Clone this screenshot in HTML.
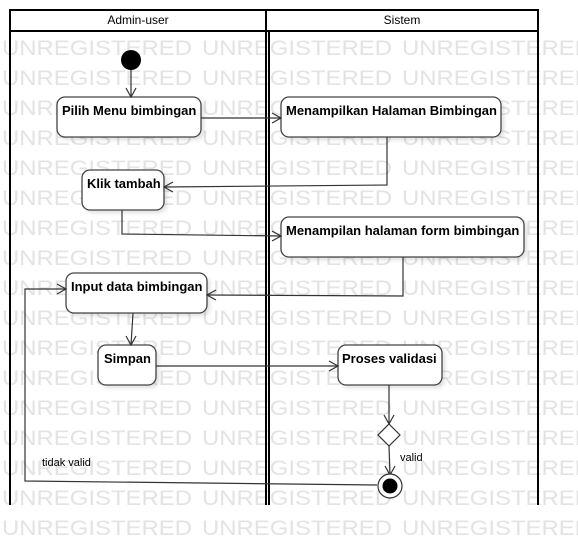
<!DOCTYPE html>
<html><head><style>
html,body{margin:0;padding:0;background:#fff;}
svg{display:block;}
</style></head><body>
<svg width="578" height="546" viewBox="0 0 578 546" xmlns="http://www.w3.org/2000/svg" font-family="Liberation Sans, Arial, sans-serif">
<defs>
<filter id="sh" x="-20%" y="-20%" width="150%" height="150%"><feGaussianBlur stdDeviation="2"/></filter>
<text id="w" font-size="21" textLength="190" lengthAdjust="spacingAndGlyphs">UNREGISTERED</text>
</defs>
<g fill="#e3e3e3">
<g id="row">
<use href="#w" x="2" y="0"/><use href="#w" x="202" y="0"/><use href="#w" x="402" y="0"/>
</g>
<use href="#row" y="55"/><use href="#row" y="85"/><use href="#row" y="115"/><use href="#row" y="145"/>
<use href="#row" y="175"/><use href="#row" y="205"/><use href="#row" y="235"/><use href="#row" y="265"/>
<use href="#row" y="295"/><use href="#row" y="325"/><use href="#row" y="355"/><use href="#row" y="385"/>
<use href="#row" y="415"/><use href="#row" y="445"/><use href="#row" y="475"/><use href="#row" y="505"/>
<use href="#row" y="535"/>
</g>
<!-- lanes -->
<g stroke="#000" fill="none" stroke-width="2">
<rect x="10" y="10" width="528" height="21" fill="#fff"/>
<line x1="10" y1="31" x2="10" y2="505"/>
<line x1="538" y1="31" x2="538" y2="505"/>
<line x1="266" y1="10" x2="266" y2="505"/>
<line x1="269" y1="31" x2="269" y2="505"/>
</g>
<g font-size="12" fill="#000" text-anchor="middle">
<text x="138" y="24">Admin-user</text>
<text x="402" y="24">Sistem</text>
</g>
<g fill="#000" opacity="0.12" filter="url(#sh)">
<rect x="60" y="100" width="144" height="40" rx="8"/>
<rect x="284" y="100" width="220" height="40" rx="8"/>
<rect x="85" y="173" width="82" height="40" rx="8"/>
<rect x="284" y="220" width="243" height="40" rx="8"/>
<rect x="69" y="276" width="141" height="40" rx="8"/>
<rect x="101" y="348" width="58" height="40" rx="8"/>
<rect x="341" y="348" width="104" height="40" rx="8"/>
</g>
<g fill="#fff" stroke="#444" stroke-width="1.3">
<rect x="57" y="97" width="144" height="40" rx="8"/>
<rect x="281" y="97" width="220" height="40" rx="8"/>
<rect x="82" y="170" width="82" height="40" rx="8"/>
<rect x="281" y="217" width="243" height="40" rx="8"/>
<rect x="66" y="273" width="141" height="40" rx="8"/>
<rect x="98" y="345" width="58" height="40" rx="8"/>
<rect x="338" y="345" width="104" height="40" rx="8"/>
</g>
<g font-size="13" font-weight="bold" fill="#000">
<text x="62" y="115">Pilih Menu bimbingan</text>
<text x="286" y="115">Menampilkan Halaman Bimbingan</text>
<text x="87" y="188">Klik tambah</text>
<text x="286" y="235">Menampilan halaman form bimbingan</text>
<text x="71" y="291">Input data bimbingan</text>
<text x="104" y="363">Simpan</text>
<text x="342" y="363">Proses validasi</text>
</g>
<circle cx="131" cy="60" r="10" fill="#000"/>
<g stroke="#333" stroke-width="1.2" fill="none">
<line x1="131" y1="70" x2="131" y2="97"/><polyline points="126,88 131,97 136,88"/>
<line x1="201" y1="118" x2="281" y2="118"/><polyline points="272,113 281,118 272,123"/>
<polyline points="387,137 387,185 164,187"/><polyline points="173,182 164,187 173,192"/>
<polyline points="122,210 122,234 281,236"/><polyline points="272,231 281,236 272,241"/>
<polyline points="403,257 403,296 207,295"/><polyline points="216,290 207,295 216,300"/>
<line x1="133" y1="313" x2="131" y2="345"/><polyline points="126,336 131,345 136,336"/>
<line x1="156" y1="366" x2="338" y2="366"/><polyline points="329,361 338,366 329,371"/>
<line x1="389" y1="385" x2="389" y2="424"/><polyline points="384,415 389,424 394,415"/>
<line x1="389" y1="446" x2="390" y2="475"/><polyline points="385,466 390,475 395,466"/>
<polyline points="377,485 25,481 25,289 66,289"/><polyline points="57,284 66,289 57,294"/>
</g>
<polygon points="389,424 400,435 389,446 378,435" fill="#fff" stroke="#333" stroke-width="1.2"/>
<circle cx="390" cy="486" r="12" fill="#fff" stroke="#333" stroke-width="1.2"/>
<circle cx="390" cy="486" r="7.5" fill="#000"/>
<g font-size="11" fill="#000">
<text x="400" y="461">valid</text>
<text x="42" y="466">tidak valid</text>
</g>
</svg>
</body></html>
